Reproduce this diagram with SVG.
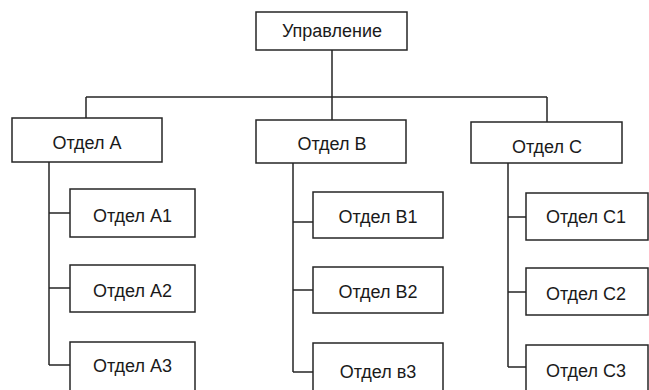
<svg xmlns="http://www.w3.org/2000/svg" width="649" height="390" viewBox="0 0 649 390">
  <style>
    .box { fill: #ffffff; stroke: #262626; stroke-width: 1.5; }
    .lbl { font-family: "Liberation Sans", Arial, sans-serif; font-size: 18px; fill: #1a1a1a; text-anchor: middle; }
    .wire { fill: none; stroke: #262626; stroke-width: 1.5; }
  </style>
  <rect width="649" height="390" fill="#ffffff"/>

  <!-- connectors -->
  <g id="connectors" class="wire">
    <path d="M332,50 V97 M86,97 H547 M86,97 V118 M332,97 V120 M547,97 V122"/>
    <path d="M49,162 V365 M49,213 H70 M49,288 H70 M49,365 H70"/>
    <path d="M293,163 V372 M293,222 H313 M293,290 H313 M293,372 H313"/>
    <path d="M508,163 V367 M508,217 H526 M508,292 H526 M508,367 H526"/>
  </g>

  <!-- top level -->
  <g id="upravlenie">
    <rect class="box" x="256" y="12" width="151" height="38"/>
    <text class="lbl" x="332" y="37">Управление</text>
  </g>

  <!-- departments -->
  <g id="otdel-a">
    <rect class="box" x="12" y="118" width="150" height="44"/>
    <text class="lbl" x="87" y="149">Отдел А</text>
  </g>
  <g id="otdel-b">
    <rect class="box" x="256" y="120" width="150" height="43"/>
    <text class="lbl" x="332" y="150">Отдел В</text>
  </g>
  <g id="otdel-c">
    <rect class="box" x="471" y="122" width="151" height="41"/>
    <text class="lbl" x="547" y="153">Отдел С</text>
  </g>

  <!-- sub-departments A -->
  <g id="otdel-a1">
    <rect class="box" x="70" y="189" width="125" height="48"/>
    <text class="lbl" x="132.5" y="222">Отдел А1</text>
  </g>
  <g id="otdel-a2">
    <rect class="box" x="70" y="265" width="125" height="47"/>
    <text class="lbl" x="132.5" y="297">Отдел А2</text>
  </g>
  <g id="otdel-a3">
    <rect class="box" x="70" y="342" width="125" height="54"/>
    <text class="lbl" x="132.5" y="372">Отдел А3</text>
  </g>

  <!-- sub-departments B -->
  <g id="otdel-b1">
    <rect class="box" x="313" y="192" width="130" height="46"/>
    <text class="lbl" x="378" y="223">Отдел В1</text>
  </g>
  <g id="otdel-b2">
    <rect class="box" x="313" y="267" width="130" height="46"/>
    <text class="lbl" x="378" y="298">Отдел В2</text>
  </g>
  <g id="otdel-b3">
    <rect class="box" x="313" y="343" width="130" height="54"/>
    <text class="lbl" x="378" y="378">Отдел в3</text>
  </g>

  <!-- sub-departments C -->
  <g id="otdel-c1">
    <rect class="box" x="526" y="193" width="122" height="47"/>
    <text class="lbl" x="586" y="223">Отдел С1</text>
  </g>
  <g id="otdel-c2">
    <rect class="box" x="526" y="268" width="122" height="47"/>
    <text class="lbl" x="586" y="300">Отдел С2</text>
  </g>
  <g id="otdel-c3">
    <rect class="box" x="526" y="345" width="122" height="52"/>
    <text class="lbl" x="586" y="377">Отдел С3</text>
  </g>
</svg>
